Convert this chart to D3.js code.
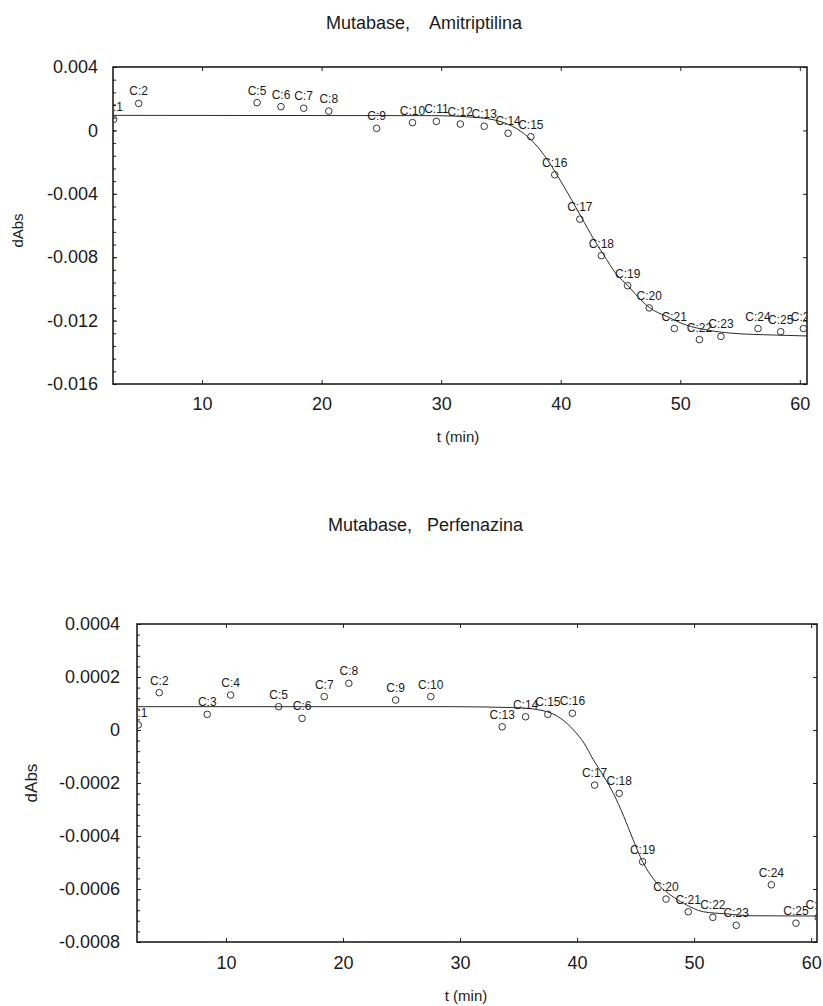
<!DOCTYPE html>
<html>
<head>
<meta charset="utf-8">
<script src="https://cdn.jsdelivr.net/npm/d3@7"></script>
<style>
  body { margin: 0; background: #fff; }
  svg { display: block; }
  text { font-family: "Liberation Sans", Arial, sans-serif; fill: #1a1a1a; }
</style>
</head>
<body>
<svg id="fig" width="823" height="1006"></svg>
<script>
// ---- Mutabase, Amitriptilina ----
const amiPoint = [1, 2, 5, 6, 7, 8, 9, 10, 11, 12, 13, 14, 15, 16, 17, 18, 19, 20, 21, 22, 23, 24, 25, 26];
const amiTime  = [2.6, 4.7, 14.6, 16.6, 18.5, 20.6, 24.6, 27.6, 29.6, 31.6, 33.6, 35.6, 37.5, 39.5, 41.6, 43.4, 45.6, 47.4, 49.5, 51.6, 53.4, 56.5, 58.4, 60.3];
const amiAbs   = [0.0007, 0.0017, 0.00175, 0.0015, 0.0014, 0.00122, 0.00013, 0.00049, 0.00057, 0.0004, 0.00026, -0.00018, -0.0004,
                  -0.0028, -0.0056, -0.0079, -0.0098, -0.0112, -0.0125, -0.0132, -0.0130, -0.0125, -0.0127, -0.0125];
// fitted curve
const amiFitTime = [2.5, 29.2, 32.7, 35.0, 36.7, 37.8, 38.9, 39.6, 40.6, 41.7, 42.8, 43.6, 44.6, 45.7, 46.7, 47.5, 48.9, 50.5, 52.2, 54.4, 57.8, 60.6];
const amiFitAbs  = [0.00095, 0.00093, 0.00083, 0.00055, -0.00008, -0.00081, -0.00187, -0.0027, -0.00397, -0.00544, -0.00691, -0.00786,
                    -0.00902, -0.00986, -0.0107, -0.01122, -0.01175, -0.01228, -0.01259, -0.0128, -0.01291, -0.01297];
const amiYTicks  = [0.004, 0, -0.004, -0.008, -0.012, -0.016];
const amiYLabels = ["0.004", "0", "-0.004", "-0.008", "-0.012", "-0.016"];

// ---- Mutabase, Perfenazina ----
const perPoint = [1, 2, 3, 4, 5, 6, 7, 8, 9, 10, 13, 14, 15, 16, 17, 18, 19, 20, 21, 22, 23, 24, 25, 26];
const perTime  = [2.5, 4.3, 8.4, 10.4, 14.5, 16.5, 18.4, 20.5, 24.5, 27.5, 33.6, 35.6, 37.5, 39.6, 41.5, 43.6, 45.6, 47.6, 49.5, 51.6, 53.6, 56.6, 58.7, 60.6];
const perAbs   = [0.000019, 0.000141, 0.000059, 0.000132, 0.000088, 0.000044, 0.000126, 0.000176, 0.000113, 0.000126,
                  0.000012, 0.00005, 0.000059, 0.000063, -0.000208, -0.000239, -0.000497, -0.000638, -0.000686, -0.000707,
                  -0.000737, -0.000584, -0.000729, -0.000707];
// fitted curve
const perFitTime = [2.4, 29.2, 34.9, 37.1, 38.6, 39.7, 40.6, 41.4, 42.3, 43.1, 44.0, 44.8, 45.6, 46.6, 48.0, 49.1, 50.8, 52.8, 54.8, 60.5];
const perFitAbs  = [0.000088, 0.000088, 0.000084, 0.000073, 0.000044, 0.0, -0.00005, -0.000113, -0.000176, -0.000239, -0.000327,
                    -0.000415, -0.000497, -0.000566, -0.000623, -0.000654, -0.000686, -0.000694, -0.000701, -0.000702];
const perYTicks  = [0.0004, 0.0002, 0, -0.0002, -0.0004, -0.0006, -0.0008];
const perYLabels = ["0.0004", "0.0002", "0", "-0.0002", "-0.0004", "-0.0006", "-0.0008"];

const timeTicks = [10, 20, 30, 40, 50, 60];

const svg = d3.select("#fig");
svg.append("rect").attr("width", 823).attr("height", 1006).attr("fill", "#fff");

function drawPanel(o) {
  const x = d3.scaleLinear().domain(o.xDomain).range([o.left, o.right]);
  const y = d3.scaleLinear().domain(o.yDomain).range([o.bottom, o.top]);
  const g = svg.append("g");

  // title
  g.append("text")
    .attr("x", o.titleX).attr("y", o.titleY)
    .style("white-space", "pre")
    .style("font-size", "18px")
    .text(o.title);

  // minor ticks on the value axis
  const step = (o.yTicks[0] - o.yTicks[1]) / 5;
  const minor = d3.range(0, Math.round((o.yDomain[1] - o.yDomain[0]) / step) + 1)
    .map(i => o.yDomain[0] + i * step);
  g.append("g").attr("transform", `translate(${o.left},0)`)
    .call(d3.axisLeft(y).tickValues(minor).tickSize(-3).tickFormat(""))
    .call(a => a.select(".domain").remove())
    .call(a => a.selectAll("line").attr("stroke", "#222"));

  // left axis
  g.append("g").attr("transform", `translate(${o.left},0)`)
    .call(d3.axisLeft(y).tickValues(o.yTicks).tickSize(-4).tickPadding(o.yPad)
      .tickFormat((d, i) => o.yLabels[i]))
    .call(a => a.select(".domain").remove())
    .call(a => a.selectAll("line").attr("stroke", "#222"))
    .call(a => a.selectAll("text").style("font-size", "18px").attr("fill", "#1a1a1a")
      .style("font-family", '"Liberation Sans", Arial, sans-serif'));

  // right border ticks
  g.append("g").attr("transform", `translate(${o.right},0)`)
    .call(d3.axisRight(y).tickValues(o.yTicks).tickSize(-4).tickFormat(""))
    .call(a => a.select(".domain").remove())
    .call(a => a.selectAll("line").attr("stroke", "#222"));

  // bottom axis
  g.append("g").attr("transform", `translate(0,${o.bottom})`)
    .call(d3.axisBottom(x).tickValues(timeTicks).tickSize(-4).tickPadding(o.xPad).tickFormat(d3.format("d")))
    .call(a => a.select(".domain").remove())
    .call(a => a.selectAll("line").attr("stroke", "#222"))
    .call(a => a.selectAll("text").style("font-size", "18px").attr("fill", "#1a1a1a")
      .style("font-family", '"Liberation Sans", Arial, sans-serif'));

  // top border ticks
  g.append("g").attr("transform", `translate(0,${o.top})`)
    .call(d3.axisTop(x).tickValues(timeTicks).tickSize(-4).tickFormat(""))
    .call(a => a.select(".domain").remove())
    .call(a => a.selectAll("line").attr("stroke", "#222"));

  // frame
  g.append("rect")
    .attr("x", o.left).attr("y", o.top)
    .attr("width", o.right - o.left).attr("height", o.bottom - o.top)
    .attr("fill", "none").attr("stroke", "#111").attr("stroke-width", 1.5);

  // axis titles
  g.append("text")
    .attr("x", o.xLabelX).attr("y", o.xLabelY)
    .attr("text-anchor", "middle").style("font-size", "15px")
    .text("t (min)");
  g.append("text")
    .attr("transform", `translate(${o.yLabelX},${(o.top + o.bottom) / 2 + o.yLabelShift}) rotate(-90)`)
    .attr("text-anchor", "middle").style("font-size", o.yLabelSize + "px")
    .text("dAbs");

  // clipped plot content
  const clipId = "clip-" + o.id;
  svg.append("clipPath").attr("id", clipId)
    .append("rect")
    .attr("x", o.left).attr("y", o.top)
    .attr("width", o.right - o.left).attr("height", o.bottom - o.top);
  const plot = g.append("g").attr("clip-path", `url(#${clipId})`);

  const fit = o.fitTime.map((t, i) => [t, o.fitAbs[i]]);
  plot.append("path")
    .datum(fit)
    .attr("fill", "none").attr("stroke", "#2a2a2a").attr("stroke-width", 1)
    .attr("d", d3.line().x(d => x(d[0])).y(d => y(d[1])).curve(d3.curveMonotoneX));

  const pts = o.time.map((t, i) => ({ t, v: o.abs[i], n: o.point[i] }));
  plot.selectAll("circle.pt").data(pts).join("circle")
    .attr("class", "pt")
    .attr("cx", d => x(d.t)).attr("cy", d => y(d.v)).attr("r", 3.3)
    .attr("fill", "none").attr("stroke", "#333").attr("stroke-width", 1);

  plot.selectAll("text.lbl").data(pts).join("text")
    .attr("class", "lbl")
    .attr("x", d => x(d.t)).attr("y", d => y(d.v) - 8)
    .attr("text-anchor", "middle")
    .style("font-size", "12px")
    .text(d => "C:" + d.n);
}

drawPanel({
  id: "ami", title: "Mutabase,    Amitriptilina", titleX: 326, titleY: 29,
  left: 113, right: 807, top: 67, bottom: 384,
  xDomain: [2.55, 60.6], yDomain: [-0.016, 0.004],
  yTicks: amiYTicks, yLabels: amiYLabels, yPad: 15, xPad: 13,
  xLabelX: 458, xLabelY: 442, yLabelX: 23, yLabelShift: 5, yLabelSize: 15,
  point: amiPoint, time: amiTime, abs: amiAbs, fitTime: amiFitTime, fitAbs: amiFitAbs
});

drawPanel({
  id: "per", title: "Mutabase,   Perfenazina", titleX: 328, titleY: 531,
  left: 137, right: 817, top: 624, bottom: 942,
  xDomain: [2.4, 60.5], yDomain: [-0.0008, 0.0004],
  yTicks: perYTicks, yLabels: perYLabels, yPad: 17, xPad: 14,
  xLabelX: 466, xLabelY: 1001, yLabelX: 37, yLabelShift: 0, yLabelSize: 17,
  point: perPoint, time: perTime, abs: perAbs, fitTime: perFitTime, fitAbs: perFitAbs
});
</script>
</body>
</html>
